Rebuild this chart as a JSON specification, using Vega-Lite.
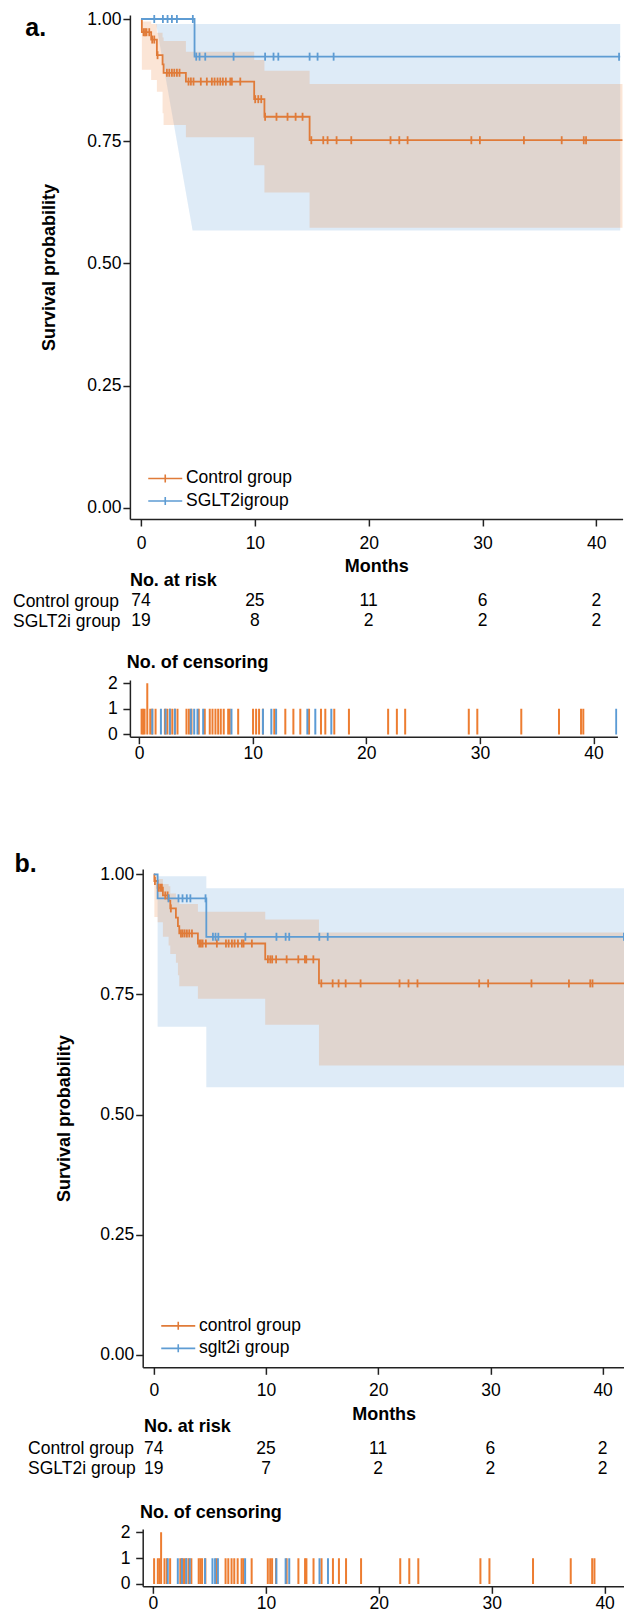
{
"$schema": "https://vega.github.io/schema/vega-lite/v6.json",
"background": "white",
"padding": {"left": 11.9, "top": 10, "right": 0, "bottom": 0},
"config": {
  "font": "Liberation Sans",
  "view": {"stroke": null},
  "axis": {"labelFontSize": 17.5, "labelColor": "#000", "titleFontSize": 18, "titleFontWeight": "bold", "titleColor": "#000", "domainColor": "#222", "domainWidth": 1.5, "tickColor": "#222", "tickWidth": 1.5, "grid": false, "labelFont": "Liberation Sans", "titleFont": "Liberation Sans", "labelOverlap": false, "labelFlush": false},
  "title": {"font": "Liberation Sans", "color": "#000"},
  "legend": {"labelFont": "Liberation Sans"},
  "text": {"font": "Liberation Sans", "fontSize": 17.5, "color": "#000"}
},
"datasets": {
  "curves": [
    {"p":"a","g":"Control group","t":0,"s":1},
    {"p":"a","g":"Control group","t":0.07,"s":0.973},
    {"p":"a","g":"Control group","t":0.89,"s":0.958},
    {"p":"a","g":"Control group","t":1.39,"s":0.926},
    {"p":"a","g":"Control group","t":1.89,"s":0.907},
    {"p":"a","g":"Control group","t":1.98,"s":0.89},
    {"p":"a","g":"Control group","t":3.94,"s":0.872},
    {"p":"a","g":"Control group","t":9.94,"s":0.836},
    {"p":"a","g":"Control group","t":10.84,"s":0.8},
    {"p":"a","g":"Control group","t":14.81,"s":0.752},
    {"p":"a","g":"Control group","t":42.3,"s":0.752},
    {"p":"a","g":"SGLT2igroup","t":0,"s":1},
    {"p":"a","g":"SGLT2igroup","t":4.7,"s":0.923},
    {"p":"a","g":"SGLT2igroup","t":42.1,"s":0.923},
    {"p":"b","g":"control group","t":0,"s":1},
    {"p":"b","g":"control group","t":0.05,"s":0.986},
    {"p":"b","g":"control group","t":0.34,"s":0.972},
    {"p":"b","g":"control group","t":0.81,"s":0.956},
    {"p":"b","g":"control group","t":1.32,"s":0.945},
    {"p":"b","g":"control group","t":1.47,"s":0.929},
    {"p":"b","g":"control group","t":1.97,"s":0.91},
    {"p":"b","g":"control group","t":2.15,"s":0.892},
    {"p":"b","g":"control group","t":2.27,"s":0.877},
    {"p":"b","g":"control group","t":3.93,"s":0.856},
    {"p":"b","g":"control group","t":9.93,"s":0.823},
    {"p":"b","g":"control group","t":14.72,"s":0.773},
    {"p":"b","g":"control group","t":41.96,"s":0.773},
    {"p":"b","g":"sglt2i group","t":0,"s":1},
    {"p":"b","g":"sglt2i group","t":0.34,"s":0.95},
    {"p":"b","g":"sglt2i group","t":4.68,"s":0.87},
    {"p":"b","g":"sglt2i group","t":41.96,"s":0.87}
  ],
  "bands": [
    {"p":"a","g":"Control group","t":0.07,"lo":0.896,"hi":0.995},
    {"p":"a","g":"Control group","t":0.89,"lo":0.875,"hi":0.99},
    {"p":"a","g":"Control group","t":1.39,"lo":0.851,"hi":0.972},
    {"p":"a","g":"Control group","t":1.89,"lo":0.807,"hi":0.962},
    {"p":"a","g":"Control group","t":1.98,"lo":0.783,"hi":0.955},
    {"p":"a","g":"Control group","t":3.94,"lo":0.758,"hi":0.933},
    {"p":"a","g":"Control group","t":9.94,"lo":0.701,"hi":0.916},
    {"p":"a","g":"Control group","t":10.84,"lo":0.645,"hi":0.894},
    {"p":"a","g":"Control group","t":14.81,"lo":0.573,"hi":0.867},
    {"p":"a","g":"Control group","t":42.3,"lo":0.573,"hi":0.867},
    {"p":"a","g":"SGLT2igroup","t":1.33,"lo":0.99,"hi":0.99},
    {"p":"a","g":"SGLT2igroup","t":4.53,"lo":0.567,"hi":0.99},
    {"p":"a","g":"SGLT2igroup","t":42.1,"lo":0.567,"hi":0.99},
    {"p":"b","g":"control group","t":0.05,"lo":0.911,"hi":0.999},
    {"p":"b","g":"control group","t":0.34,"lo":0.9,"hi":0.99},
    {"p":"b","g":"control group","t":0.81,"lo":0.87,"hi":0.98},
    {"p":"b","g":"control group","t":1.32,"lo":0.852,"hi":0.975},
    {"p":"b","g":"control group","t":1.47,"lo":0.834,"hi":0.96},
    {"p":"b","g":"control group","t":1.97,"lo":0.816,"hi":0.95},
    {"p":"b","g":"control group","t":2.15,"lo":0.79,"hi":0.945},
    {"p":"b","g":"control group","t":2.27,"lo":0.767,"hi":0.938},
    {"p":"b","g":"control group","t":3.93,"lo":0.741,"hi":0.922},
    {"p":"b","g":"control group","t":9.93,"lo":0.687,"hi":0.906},
    {"p":"b","g":"control group","t":14.72,"lo":0.602,"hi":0.879},
    {"p":"b","g":"control group","t":41.96,"lo":0.602,"hi":0.879},
    {"p":"b","g":"sglt2i group","t":0.34,"lo":0.683,"hi":0.996},
    {"p":"b","g":"sglt2i group","t":4.68,"lo":0.557,"hi":0.971},
    {"p":"b","g":"sglt2i group","t":41.96,"lo":0.557,"hi":0.971}
  ],
  "censor": [
    {"p":"a","g":"Control group","t":0.22,"s":0.973,"n":1},
    {"p":"a","g":"Control group","t":0.35,"s":0.973,"n":1},
    {"p":"a","g":"Control group","t":0.48,"s":0.973,"n":1},
    {"p":"a","g":"Control group","t":0.72,"s":0.973,"n":2},
    {"p":"a","g":"Control group","t":0.98,"s":0.958,"n":1},
    {"p":"a","g":"Control group","t":1.16,"s":0.958,"n":1},
    {"p":"a","g":"Control group","t":1.45,"s":0.926,"n":1},
    {"p":"a","g":"Control group","t":2.27,"s":0.89,"n":1},
    {"p":"a","g":"Control group","t":2.48,"s":0.89,"n":1},
    {"p":"a","g":"Control group","t":2.71,"s":0.89,"n":1},
    {"p":"a","g":"Control group","t":2.92,"s":0.89,"n":1},
    {"p":"a","g":"Control group","t":3.15,"s":0.89,"n":1},
    {"p":"a","g":"Control group","t":3.38,"s":0.89,"n":1},
    {"p":"a","g":"Control group","t":4.17,"s":0.872,"n":1},
    {"p":"a","g":"Control group","t":4.38,"s":0.872,"n":1},
    {"p":"a","g":"Control group","t":4.61,"s":0.872,"n":1},
    {"p":"a","g":"Control group","t":5.25,"s":0.872,"n":1},
    {"p":"a","g":"Control group","t":5.78,"s":0.872,"n":1},
    {"p":"a","g":"Control group","t":6.22,"s":0.872,"n":1},
    {"p":"a","g":"Control group","t":6.46,"s":0.872,"n":1},
    {"p":"a","g":"Control group","t":6.72,"s":0.872,"n":1},
    {"p":"a","g":"Control group","t":6.96,"s":0.872,"n":1},
    {"p":"a","g":"Control group","t":7.19,"s":0.872,"n":1},
    {"p":"a","g":"Control group","t":7.45,"s":0.872,"n":1},
    {"p":"a","g":"Control group","t":7.84,"s":0.872,"n":1},
    {"p":"a","g":"Control group","t":7.98,"s":0.872,"n":1},
    {"p":"a","g":"Control group","t":8.72,"s":0.872,"n":1},
    {"p":"a","g":"Control group","t":10.03,"s":0.836,"n":1},
    {"p":"a","g":"Control group","t":10.3,"s":0.836,"n":1},
    {"p":"a","g":"Control group","t":10.56,"s":0.836,"n":1},
    {"p":"a","g":"Control group","t":10.9,"s":0.8,"n":1},
    {"p":"a","g":"Control group","t":11.9,"s":0.8,"n":1},
    {"p":"a","g":"Control group","t":12.87,"s":0.8,"n":1},
    {"p":"a","g":"Control group","t":13.58,"s":0.8,"n":1},
    {"p":"a","g":"Control group","t":14.19,"s":0.8,"n":1},
    {"p":"a","g":"Control group","t":14.96,"s":0.752,"n":1},
    {"p":"a","g":"Control group","t":16.01,"s":0.752,"n":1},
    {"p":"a","g":"Control group","t":16.39,"s":0.752,"n":1},
    {"p":"a","g":"Control group","t":17.18,"s":0.752,"n":1},
    {"p":"a","g":"Control group","t":18.47,"s":0.752,"n":1},
    {"p":"a","g":"Control group","t":21.92,"s":0.752,"n":1},
    {"p":"a","g":"Control group","t":22.69,"s":0.752,"n":1},
    {"p":"a","g":"Control group","t":23.42,"s":0.752,"n":1},
    {"p":"a","g":"Control group","t":29.02,"s":0.752,"n":1},
    {"p":"a","g":"Control group","t":29.77,"s":0.752,"n":1},
    {"p":"a","g":"Control group","t":33.64,"s":0.752,"n":1},
    {"p":"a","g":"Control group","t":36.96,"s":0.752,"n":1},
    {"p":"a","g":"Control group","t":38.9,"s":0.752,"n":1},
    {"p":"a","g":"Control group","t":39.1,"s":0.752,"n":1},
    {"p":"a","g":"SGLT2igroup","t":1.16,"s":1,"n":1},
    {"p":"a","g":"SGLT2igroup","t":1.92,"s":1,"n":1},
    {"p":"a","g":"SGLT2igroup","t":2.33,"s":1,"n":1},
    {"p":"a","g":"SGLT2igroup","t":2.71,"s":1,"n":1},
    {"p":"a","g":"SGLT2igroup","t":3.15,"s":1,"n":1},
    {"p":"a","g":"SGLT2igroup","t":4.55,"s":1,"n":1},
    {"p":"a","g":"SGLT2igroup","t":4.85,"s":0.923,"n":1},
    {"p":"a","g":"SGLT2igroup","t":5.14,"s":0.923,"n":1},
    {"p":"a","g":"SGLT2igroup","t":5.64,"s":0.923,"n":1},
    {"p":"a","g":"SGLT2igroup","t":8.13,"s":0.923,"n":1},
    {"p":"a","g":"SGLT2igroup","t":10.9,"s":0.923,"n":1},
    {"p":"a","g":"SGLT2igroup","t":11.64,"s":0.923,"n":1},
    {"p":"a","g":"SGLT2igroup","t":12.06,"s":0.923,"n":1},
    {"p":"a","g":"SGLT2igroup","t":14.81,"s":0.923,"n":1},
    {"p":"a","g":"SGLT2igroup","t":15.51,"s":0.923,"n":1},
    {"p":"a","g":"SGLT2igroup","t":16.92,"s":0.923,"n":1},
    {"p":"a","g":"SGLT2igroup","t":42.0,"s":0.923,"n":1},
    {"p":"b","g":"control group","t":0.1,"s":0.986,"n":1},
    {"p":"b","g":"control group","t":0.43,"s":0.972,"n":1},
    {"p":"b","g":"control group","t":0.58,"s":0.972,"n":1},
    {"p":"b","g":"control group","t":0.72,"s":0.972,"n":2},
    {"p":"b","g":"control group","t":1.02,"s":0.956,"n":1},
    {"p":"b","g":"control group","t":1.23,"s":0.956,"n":1},
    {"p":"b","g":"control group","t":1.52,"s":0.929,"n":1},
    {"p":"b","g":"control group","t":2.42,"s":0.877,"n":1},
    {"p":"b","g":"control group","t":2.57,"s":0.877,"n":1},
    {"p":"b","g":"control group","t":2.75,"s":0.877,"n":1},
    {"p":"b","g":"control group","t":2.95,"s":0.877,"n":1},
    {"p":"b","g":"control group","t":3.16,"s":0.877,"n":1},
    {"p":"b","g":"control group","t":3.4,"s":0.877,"n":1},
    {"p":"b","g":"control group","t":4.05,"s":0.856,"n":1},
    {"p":"b","g":"control group","t":4.2,"s":0.856,"n":1},
    {"p":"b","g":"control group","t":4.35,"s":0.856,"n":1},
    {"p":"b","g":"control group","t":4.64,"s":0.856,"n":1},
    {"p":"b","g":"control group","t":5.62,"s":0.856,"n":1},
    {"p":"b","g":"control group","t":6.43,"s":0.856,"n":1},
    {"p":"b","g":"control group","t":6.67,"s":0.856,"n":1},
    {"p":"b","g":"control group","t":6.96,"s":0.856,"n":1},
    {"p":"b","g":"control group","t":7.2,"s":0.856,"n":1},
    {"p":"b","g":"control group","t":7.5,"s":0.856,"n":1},
    {"p":"b","g":"control group","t":7.85,"s":0.856,"n":1},
    {"p":"b","g":"control group","t":8.0,"s":0.856,"n":1},
    {"p":"b","g":"control group","t":8.74,"s":0.856,"n":1},
    {"p":"b","g":"control group","t":10.17,"s":0.823,"n":1},
    {"p":"b","g":"control group","t":10.38,"s":0.823,"n":1},
    {"p":"b","g":"control group","t":10.55,"s":0.823,"n":1},
    {"p":"b","g":"control group","t":10.9,"s":0.823,"n":1},
    {"p":"b","g":"control group","t":11.84,"s":0.823,"n":1},
    {"p":"b","g":"control group","t":12.88,"s":0.823,"n":1},
    {"p":"b","g":"control group","t":13.47,"s":0.823,"n":1},
    {"p":"b","g":"control group","t":13.59,"s":0.823,"n":1},
    {"p":"b","g":"control group","t":14.22,"s":0.823,"n":1},
    {"p":"b","g":"control group","t":14.93,"s":0.773,"n":1},
    {"p":"b","g":"control group","t":15.94,"s":0.773,"n":1},
    {"p":"b","g":"control group","t":16.47,"s":0.773,"n":1},
    {"p":"b","g":"control group","t":17.1,"s":0.773,"n":1},
    {"p":"b","g":"control group","t":18.43,"s":0.773,"n":1},
    {"p":"b","g":"control group","t":21.9,"s":0.773,"n":1},
    {"p":"b","g":"control group","t":22.7,"s":0.773,"n":1},
    {"p":"b","g":"control group","t":23.5,"s":0.773,"n":1},
    {"p":"b","g":"control group","t":29.0,"s":0.773,"n":1},
    {"p":"b","g":"control group","t":29.8,"s":0.773,"n":1},
    {"p":"b","g":"control group","t":33.66,"s":0.773,"n":1},
    {"p":"b","g":"control group","t":37.0,"s":0.773,"n":1},
    {"p":"b","g":"control group","t":38.9,"s":0.773,"n":1},
    {"p":"b","g":"control group","t":39.1,"s":0.773,"n":1},
    {"p":"b","g":"sglt2i group","t":1.31,"s":0.95,"n":1},
    {"p":"b","g":"sglt2i group","t":2.2,"s":0.95,"n":1},
    {"p":"b","g":"sglt2i group","t":2.56,"s":0.95,"n":1},
    {"p":"b","g":"sglt2i group","t":2.94,"s":0.95,"n":1},
    {"p":"b","g":"sglt2i group","t":3.26,"s":0.95,"n":1},
    {"p":"b","g":"sglt2i group","t":4.61,"s":0.95,"n":1},
    {"p":"b","g":"sglt2i group","t":5.27,"s":0.87,"n":1},
    {"p":"b","g":"sglt2i group","t":5.5,"s":0.87,"n":1},
    {"p":"b","g":"sglt2i group","t":5.75,"s":0.87,"n":1},
    {"p":"b","g":"sglt2i group","t":8.16,"s":0.87,"n":1},
    {"p":"b","g":"sglt2i group","t":10.93,"s":0.87,"n":1},
    {"p":"b","g":"sglt2i group","t":11.75,"s":0.87,"n":1},
    {"p":"b","g":"sglt2i group","t":12.07,"s":0.87,"n":1},
    {"p":"b","g":"sglt2i group","t":14.75,"s":0.87,"n":1},
    {"p":"b","g":"sglt2i group","t":15.5,"s":0.87,"n":1},
    {"p":"b","g":"sglt2i group","t":41.9,"s":0.87,"n":1}
  ],
  "risk": [
    {"p":"a","row":"Control group","t":0,"n":74},
    {"p":"a","row":"Control group","t":10,"n":25},
    {"p":"a","row":"Control group","t":20,"n":11},
    {"p":"a","row":"Control group","t":30,"n":6},
    {"p":"a","row":"Control group","t":40,"n":2},
    {"p":"a","row":"SGLT2i group","t":0,"n":19},
    {"p":"a","row":"SGLT2i group","t":10,"n":8},
    {"p":"a","row":"SGLT2i group","t":20,"n":2},
    {"p":"a","row":"SGLT2i group","t":30,"n":2},
    {"p":"a","row":"SGLT2i group","t":40,"n":2},
    {"p":"b","row":"Control group","t":0,"n":74},
    {"p":"b","row":"Control group","t":10,"n":25},
    {"p":"b","row":"Control group","t":20,"n":11},
    {"p":"b","row":"Control group","t":30,"n":6},
    {"p":"b","row":"Control group","t":40,"n":2},
    {"p":"b","row":"SGLT2i group","t":0,"n":19},
    {"p":"b","row":"SGLT2i group","t":10,"n":7},
    {"p":"b","row":"SGLT2i group","t":20,"n":2},
    {"p":"b","row":"SGLT2i group","t":30,"n":2},
    {"p":"b","row":"SGLT2i group","t":40,"n":2}
  ],
  "gap": [{"k": 0}]
},
"vconcat": [
  {
    "width": 492.7, "height": 504,
    "title": {"text": "a.", "anchor": "start", "frame": "group", "dx": -104.6, "dy": 32.3, "offset": -18.3, "baseline": "alphabetic", "fontSize": 25, "fontWeight": "bold"},
    "encoding": {"x": {"field": "t", "type": "quantitative", "title": "Months", "scale": {"domain": [-0.98, 42.31], "nice": false, "zero": false}, "axis": {"values": [0,10,20,30,40], "tickSize": 7, "labelPadding": 8, "titlePadding": 6}}},
    "layer": [
      {"data": {"name": "bands"}, "transform": [{"filter": "datum.p == 'a' && datum.g == 'SGLT2igroup'"}],
       "mark": {"type": "area", "color": "#5B9BD5", "opacity": 0.2, "interpolate": "linear"},
       "encoding": {"y": {"field": "lo", "type": "quantitative", "title": "Survival probability", "scale": {"domain": [-0.0231, 1.0082], "nice": false, "zero": false}, "axis": {"values": [0,0.25,0.5,0.75,1], "format": ".2f", "tickSize": 7, "labelPadding": 2, "titlePadding": 28.6}}, "y2": {"field": "hi"}}},
      {"data": {"name": "bands"}, "transform": [{"filter": "datum.p == 'a' && datum.g == 'Control group'"}],
       "mark": {"type": "area", "color": "#ED7D31", "opacity": 0.2, "interpolate": "step-after"},
       "encoding": {"y": {"field": "lo", "type": "quantitative", "title": "Survival probability"}, "y2": {"field": "hi"}}},
      {"data": {"name": "curves"}, "transform": [{"filter": "datum.p == 'a'"}],
       "mark": {"type": "line", "interpolate": "step-after", "strokeWidth": 1.8},
       "encoding": {"y": {"field": "s", "type": "quantitative", "title": "Survival probability"},
         "color": {"field": "g", "type": "nominal", "scale": {"domain": ["Control group", "SGLT2igroup"], "range": ["#E07B39", "#5E9CD3"]},
           "legend": {"title": null, "orient": "none", "legendX": 26.6, "legendY": 454.7, "symbolType": "M-3.4,0L3.4,0M0,-0.8L0,0.8", "symbolSize": 100, "symbolStrokeWidth": 1.6, "symbolOpacity": 1, "labelFontSize": 17.5, "labelOffset": 12, "rowPadding": 3.5, "labelColor": "#000"}}}},
      {"data": {"name": "censor"}, "transform": [{"filter": "datum.p == 'a'"}],
       "mark": {"type": "tick", "orient": "vertical", "size": 8, "thickness": 1.8, "opacity": 1},
       "encoding": {"y": {"field": "s", "type": "quantitative", "title": "Survival probability"},
         "color": {"field": "g", "type": "nominal", "scale": {"domain": ["Control group", "SGLT2igroup"], "range": ["#E07B39", "#5E9CD3"]}, "legend": null}}}
    ]
  },
  {"width": 1, "height": 71.4, "data": {"name": "gap"}, "mark": {"type": "text", "text": ""}},
  {
    "width": 492.7, "height": 40.6,
    "title": {"text": "No. at risk", "anchor": "start", "frame": "group", "dy": 18.3, "offset": 5.1, "baseline": "alphabetic", "fontSize": 18, "fontWeight": "bold"},
    "data": {"name": "risk"}, "transform": [{"filter": "datum.p == 'a'"}],
    "mark": {"type": "text", "fontSize": 17.5, "baseline": "middle", "align": "center"},
    "encoding": {
      "x": {"field": "t", "type": "quantitative", "scale": {"domain": [-0.98, 42.31], "nice": false, "zero": false}, "axis": null},
      "y": {"field": "row", "type": "nominal", "scale": {"domain": ["Control group", "SGLT2i group"]}, "axis": {"title": null, "domain": false, "ticks": false, "tickSize": 0, "labelAlign": "left", "labelBaseline": "middle", "labelPadding": 117.4, "labelFontSize": 17.5}},
      "text": {"field": "n", "type": "quantitative"}
    }
  },
  {"width": 1, "height": 47.3, "data": {"name": "gap"}, "mark": {"type": "text", "text": ""}},
  {
    "width": 487.5, "height": 56.7,
    "title": {"text": "No. of censoring", "anchor": "start", "frame": "group", "dx": -3.2, "dy": 22.1, "offset": 10.1, "baseline": "alphabetic", "fontSize": 18, "fontWeight": "bold"},
    "data": {"name": "censor"}, "transform": [{"filter": "datum.p == 'a'"}],
    "mark": {"type": "rule", "strokeWidth": 2, "clip": true},
    "encoding": {
      "x": {"field": "t", "type": "quantitative", "scale": {"domain": [-0.81, 42.1], "nice": false, "zero": false}, "axis": {"values": [0,10,20,30,40], "tickSize": 7, "labelPadding": 1, "title": null}},
      "y": {"field": "n", "type": "quantitative", "scale": {"domain": [-0.09, 2.13], "nice": false, "zero": false}, "axis": {"values": [0,1,2], "tickSize": 7, "labelPadding": 5.7, "title": null}},
      "y2": {"datum": 0},
      "color": {"field": "g", "type": "nominal", "scale": {"domain": ["Control group", "SGLT2igroup"], "range": ["#ED7D31", "#5B9BD5"]}, "legend": null}
    }
  },
  {"width": 1, "height": 131.7, "data": {"name": "gap"}, "mark": {"type": "text", "text": ""}},
  {
    "width": 494.7, "height": 498.3,
    "title": {"text": "b.", "anchor": "start", "frame": "group", "dx": -115.3, "dy": 26.6, "offset": -5.6, "baseline": "alphabetic", "fontSize": 25, "fontWeight": "bold"},
    "encoding": {"x": {"field": "t", "type": "quantitative", "title": "Months", "scale": {"domain": [-0.99, 41.96], "range": [12.8, 494.7], "nice": false, "zero": false}, "axis": {"values": [0,10,20,30,40], "tickSize": 7, "labelPadding": 7, "titlePadding": 6.3}}},
    "layer": [
      {"data": {"name": "bands"}, "transform": [{"filter": "datum.p == 'b' && datum.g == 'sglt2i group'"}],
       "mark": {"type": "area", "color": "#5B9BD5", "opacity": 0.2, "interpolate": "step-after"},
       "encoding": {"y": {"field": "lo", "type": "quantitative", "title": "Survival probability", "scale": {"domain": [-0.0256, 1.011], "nice": false, "zero": false}, "axis": {"values": [0,0.25,0.5,0.75,1], "format": ".2f", "tickSize": 7, "labelPadding": 2, "titlePadding": 26.5, "offset": -12.8}}, "y2": {"field": "hi"}}},
      {"data": {"name": "bands"}, "transform": [{"filter": "datum.p == 'b' && datum.g == 'control group'"}],
       "mark": {"type": "area", "color": "#ED7D31", "opacity": 0.2, "interpolate": "step-after"},
       "encoding": {"y": {"field": "lo", "type": "quantitative", "title": "Survival probability"}, "y2": {"field": "hi"}}},
      {"data": {"name": "curves"}, "transform": [{"filter": "datum.p == 'b'"}],
       "mark": {"type": "line", "interpolate": "step-after", "strokeWidth": 1.8},
       "encoding": {"y": {"field": "s", "type": "quantitative", "title": "Survival probability"},
         "color": {"field": "g", "type": "nominal", "scale": {"domain": ["control group", "sglt2i group"], "range": ["#E07B39", "#5E9CD3"]},
           "legend": {"title": null, "orient": "none", "legendX": 39.6, "legendY": 448.1, "symbolType": "M-3.4,0L3.4,0M0,-0.8L0,0.8", "symbolSize": 100, "symbolStrokeWidth": 1.6, "symbolOpacity": 1, "labelFontSize": 17.5, "labelOffset": 12, "rowPadding": 3.5, "labelColor": "#000"}}}},
      {"data": {"name": "censor"}, "transform": [{"filter": "datum.p == 'b'"}],
       "mark": {"type": "tick", "orient": "vertical", "size": 8, "thickness": 1.8, "opacity": 1},
       "encoding": {"y": {"field": "s", "type": "quantitative", "title": "Survival probability"},
         "color": {"field": "g", "type": "nominal", "scale": {"domain": ["control group", "sglt2i group"], "range": ["#E07B39", "#5E9CD3"]}, "legend": null}}}
    ]
  },
  {"width": 1, "height": 70.7, "data": {"name": "gap"}, "mark": {"type": "text", "text": ""}},
  {
    "width": 494.7, "height": 40,
    "title": {"text": "No. at risk", "anchor": "start", "frame": "group", "dx": 14, "dy": 16.1, "offset": 5.3, "baseline": "alphabetic", "fontSize": 18, "fontWeight": "bold"},
    "data": {"name": "risk"}, "transform": [{"filter": "datum.p == 'b'"}],
    "mark": {"type": "text", "fontSize": 17.5, "baseline": "middle", "align": "center"},
    "encoding": {
      "x": {"field": "t", "type": "quantitative", "scale": {"domain": [-0.99, 41.96], "range": [12.8, 494.7], "nice": false, "zero": false}, "axis": null},
      "y": {"field": "row", "type": "nominal", "scale": {"domain": ["Control group", "SGLT2i group"]}, "axis": {"title": null, "domain": false, "ticks": false, "tickSize": 0, "labelAlign": "left", "labelBaseline": "middle", "labelPadding": 102.3, "labelFontSize": 17.5}},
      "text": {"field": "n", "type": "quantitative"}
    }
  },
  {"width": 1, "height": 49.3, "data": {"name": "gap"}, "mark": {"type": "text", "text": ""}},
  {
    "width": 494.7, "height": 57.3,
    "title": {"text": "No. of censoring", "anchor": "start", "frame": "group", "dx": 10, "dy": 22.8, "offset": 10.2, "baseline": "alphabetic", "fontSize": 18, "fontWeight": "bold"},
    "data": {"name": "censor"}, "transform": [{"filter": "datum.p == 'b'"}],
    "mark": {"type": "rule", "strokeWidth": 2, "clip": true},
    "encoding": {
      "x": {"field": "t", "type": "quantitative", "scale": {"domain": [-0.91, 41.77], "range": [12.8, 494.7], "nice": false, "zero": false}, "axis": {"values": [0,10,20,30,40], "tickSize": 7, "labelPadding": 1.2, "title": null}},
      "y": {"field": "n", "type": "quantitative", "scale": {"domain": [-0.089, 2.13], "nice": false, "zero": false}, "axis": {"values": [0,1,2], "tickSize": 7, "labelPadding": 5.7, "title": null, "offset": -12.8}},
      "y2": {"datum": 0},
      "color": {"field": "g", "type": "nominal", "scale": {"domain": ["control group", "sglt2i group"], "range": ["#ED7D31", "#5B9BD5"]}, "legend": null}
    }
  }
],
"spacing": 0,
"bounds": "flush",
"resolve": {"scale": {"color": "independent"}}
}
